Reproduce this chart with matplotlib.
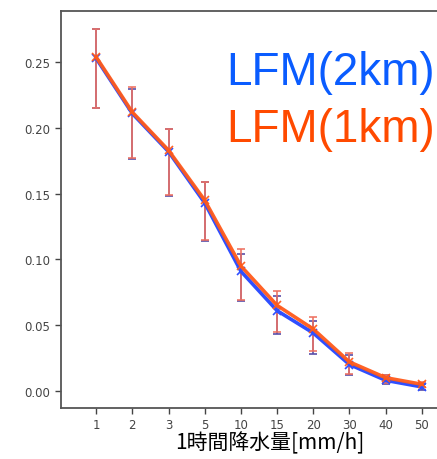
import matplotlib
matplotlib.use("Agg")
import matplotlib.pyplot as plt
import numpy as np

# rainfall classes (categorical x axis)
CATEGORIES = ['1', '2', '3', '5', '10', '15', '20', '30', '40', '50']

# LFM(2km)
mean_2km = [0.253, 0.211, 0.182, 0.143, 0.091, 0.061, 0.044, 0.020, 0.008, 0.003]
upper_2km = [0.275, 0.230, 0.199, 0.159, 0.104, 0.072, 0.053, 0.027, 0.012, 0.005]
lower_2km = [0.215, 0.176, 0.148, 0.114, 0.068, 0.043, 0.028, 0.012, 0.005, 0.001]

# LFM(1km)
mean_1km = [0.254, 0.212, 0.183, 0.145, 0.095, 0.065, 0.047, 0.022, 0.010, 0.005]
upper_1km = [0.275, 0.231, 0.199, 0.159, 0.108, 0.076, 0.056, 0.029, 0.012, 0.007]
lower_1km = [0.215, 0.177, 0.149, 0.115, 0.069, 0.045, 0.030, 0.013, 0.006, 0.003]

BLUE = '#2f4fff'
ORANGE = '#ff5a1a'

fig = plt.figure(figsize=(4.37, 4.6), dpi=100)
ax = fig.add_axes([0.1396, 0.111, 0.95, 0.863])

x = np.arange(len(CATEGORIES))

def yerr(mean, lo, hi):
    mean = np.array(mean)
    return [mean - np.array(lo), np.array(hi) - mean]

ax.errorbar(x, mean_2km, yerr=yerr(mean_2km, lower_2km, upper_2km),
            color=BLUE, lw=2.6, marker='x', ms=6, mew=1.2,
            ecolor='#5a4fa8', elinewidth=1.2, capsize=3, capthick=1.2)
ax.errorbar(x, mean_1km, yerr=yerr(mean_1km, lower_1km, upper_1km),
            color=ORANGE, lw=2.6, marker='x', ms=6, mew=1.2,
            ecolor='#ee7060', elinewidth=1.2, capsize=3, capthick=1.2, alpha=0.95)

ax.set_xticks(x)
ax.set_xticklabels(CATEGORIES)
ax.set_xlim(-0.97, 10.5)
ax.set_ylim(-0.013, 0.289)
ax.set_yticks([0.0, 0.05, 0.10, 0.15, 0.20, 0.25])
ax.set_yticklabels(['0.00', '0.05', '0.10', '0.15', '0.20', '0.25'])
ax.tick_params(labelsize=8.5, colors='#444444', length=4, width=1)
for s in ax.spines.values():
    s.set_color('#555555')
    s.set_linewidth(1.3)

fig.text(0.618, 0.012, '1時間降水量[mm/h]', ha='center', va='bottom',
         fontsize=15, family=['Noto Sans CJK JP', 'DejaVu Sans'], color='black')

fig.text(0.517, 0.815, 'LFM(2km)', fontsize=33, color='#0a5cff',
         family='Liberation Sans', ha='left', va='baseline')
fig.text(0.517, 0.691, 'LFM(1km)', fontsize=33, color='#ff4a00',
         family='Liberation Sans', ha='left', va='baseline')

fig.savefig('out.png', dpi=100)
